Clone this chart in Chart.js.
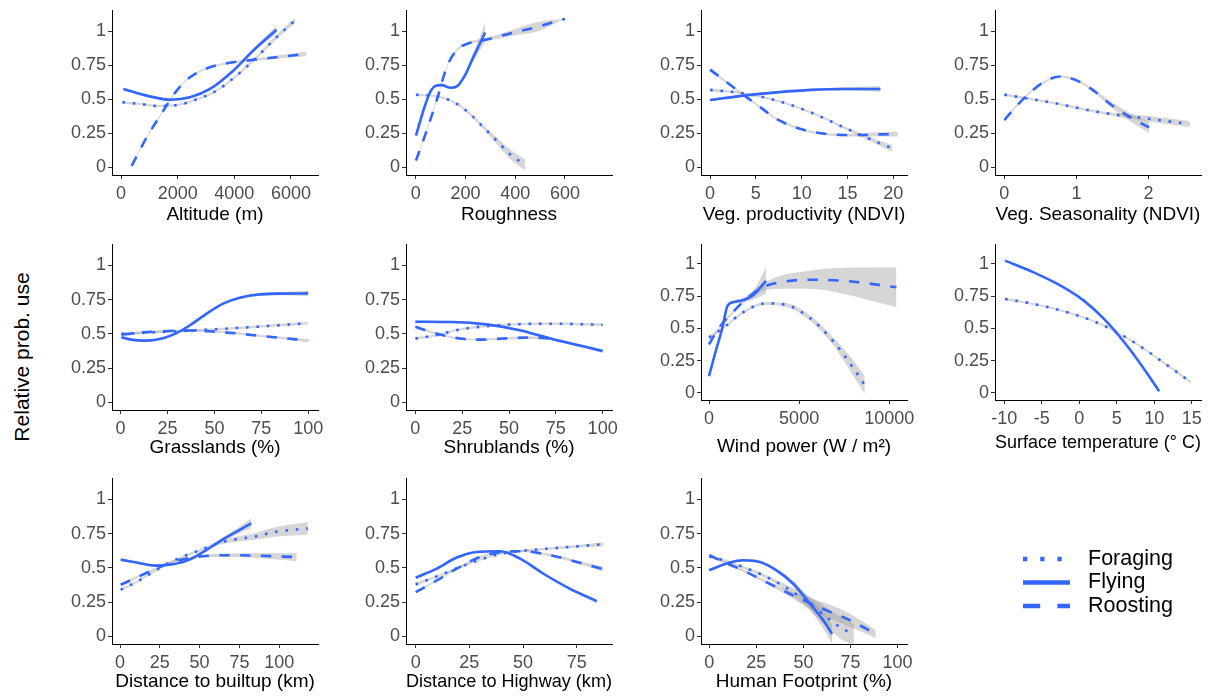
<!DOCTYPE html>
<html>
<head>
<meta charset="utf-8">
<script src="https://cdn.jsdelivr.net/npm/chart.js@4.4.1/dist/chart.umd.min.js"></script>
<style>
  html,body{margin:0;padding:0;background:#fff;}
  body{width:1217px;height:698px;position:relative;overflow:hidden;}
  canvas{position:absolute;}
  #ytitle{position:absolute;left:22px;top:357px;transform:translate(-50%,-50%) rotate(-90deg);white-space:nowrap;font:21px "Liberation Sans",Arial,sans-serif;color:#000;}
</style>
</head>
<body>
<div id="ytitle">Relative prob. use</div>
<script>
// ---------------- DATA ----------------
const seriesNames = ['Foraging', 'Flying', 'Roosting'];
const yTicks = [0, 0.25, 0.5, 0.75, 1];
const yTickLabels = ['0', '0.25', '0.5', '0.75', '1'];

// each point: [x, fitted relative probability, half-width of confidence band]
const altitudeTicks = [0, 2000, 4000, 6000];
const altitudeForaging = [[47,0.478,0.01],[670,0.466,0.008],[1260,0.451,0.008],[1960,0.458,0.008],[2670,0.50,0.008],[3375,0.564,0.008],[4080,0.674,0.01],[4790,0.809,0.012],[5490,0.956,0.015],[6140,1.078,0.02]];
const altitudeFlying = [[82,0.576,0.01],[905,0.527,0.008],[1730,0.497,0.008],[2435,0.515,0.008],[3140,0.576,0.008],[3960,0.71,0.01],[4670,0.858,0.015],[5490,1.01,0.03]];
const altitudeRoosting = [[376,0.012,0.01],[905,0.22,0.008],[1494,0.417,0.008],[1964,0.564,0.008],[2435,0.662,0.008],[3140,0.735,0.008],[3960,0.772,0.008],[4670,0.789,0.01],[5490,0.809,0.012],[6550,0.833,0.018]];

const roughnessTicks = [0, 200, 400, 600];
const roughnessForaging = [[1,0.533,0.008],[58,0.528,0.008],[111,0.511,0.008],[165,0.467,0.01],[218,0.393,0.012],[272,0.295,0.015],[325,0.197,0.025],[379,0.098,0.035],[439,0.02,0.04]];
const roughnessFlying = [[1,0.233,0.01],[31,0.418,0.01],[58,0.553,0.01],[84,0.602,0.01],[104,0.604,0.01],[138,0.585,0.01],[165,0.595,0.012],[198,0.676,0.015],[232,0.811,0.03],[258,0.909,0.05],[279,0.99,0.075]];
const roughnessRoosting = [[1,0.05,0.01],[44,0.27,0.01],[84,0.49,0.01],[125,0.737,0.01],[165,0.86,0.01],[218,0.914,0.01],[285,0.939,0.012],[379,0.983,0.02],[486,1.03,0.035],[600,1.09,0]];

const ndviTicks = [0, 5, 10, 15, 20];
const ndviForaging = [[0,0.569,0.01],[3.66,0.544,0.008],[7.3,0.49,0.008],[11,0.404,0.008],[14.6,0.294,0.01],[18.3,0.184,0.018],[19.9,0.14,0.025]];
const ndviFlying = [[0,0.495,0.01],[3.66,0.527,0.008],[7.3,0.551,0.008],[11,0.569,0.008],[14.6,0.576,0.012],[18.6,0.576,0.022]];
const ndviRoosting = [[0,0.718,0.012],[1.83,0.625,0.01],[3.66,0.532,0.008],[5.5,0.441,0.008],[7.3,0.355,0.008],[9.9,0.282,0.008],[12.8,0.245,0.008],[15.7,0.238,0.01],[18.3,0.243,0.015],[20.5,0.245,0.018]];

const seasonTicks = [0, 1, 2];
const seasonForaging = [[0,0.534,0.01],[0.637,0.478,0.008],[1.335,0.404,0.01],[2.03,0.355,0.02],[2.57,0.319,0.022]];
const seasonRoosting = [[0,0.348,0.012],[0.172,0.453,0.01],[0.358,0.551,0.008],[0.544,0.625,0.008],[0.777,0.667,0.008],[1.01,0.637,0.008],[1.24,0.564,0.012],[1.47,0.466,0.02],[1.75,0.368,0.03],[2.01,0.294,0.04]];

const percentTicks = [0, 25, 50, 75, 100];
const grassForaging = [[0.4,0.5,0.01],[36.8,0.524,0.008],[63.5,0.544,0.008],[100,0.578,0.01]];
const grassFlying = [[0.4,0.476,0.01],[6.6,0.456,0.008],[13.7,0.451,0.008],[22.6,0.468,0.008],[29.7,0.505,0.008],[36.8,0.561,0.008],[45.7,0.646,0.008],[54.6,0.72,0.008],[63.5,0.763,0.008],[72.4,0.785,0.01],[83,0.793,0.012],[100,0.795,0.02]];
const grassRoosting = [[0.4,0.495,0.01],[19,0.517,0.008],[36.8,0.524,0.008],[54.6,0.512,0.008],[72.4,0.488,0.008],[100,0.451,0.012]];

const shrubForaging = [[0,0.466,0.01],[11.2,0.49,0.008],[23.7,0.532,0.008],[37.9,0.556,0.008],[55.7,0.571,0.008],[73.5,0.574,0.008],[100,0.566,0.01]];
const shrubFlying = [[0,0.588,0.01],[20,0.586,0.008],[37.9,0.569,0.008],[55.7,0.527,0.008],[73.5,0.461,0.01],[91.3,0.404,0.012],[100,0.375,0.015]];
const shrubRoosting = [[0,0.551,0.01],[11.2,0.502,0.008],[23.7,0.466,0.008],[34.3,0.458,0.008],[46.8,0.466,0.008],[61,0.473,0.01],[73.5,0.466,0.012]];

const windTicks = [0, 5000, 10000];
const windForaging = [[0,0.429,0.015],[929,0.519,0.01],[1860,0.623,0.01],[3160,0.694,0.012],[4275,0.683,0.015],[5576,0.584,0.02],[6877,0.403,0.03],[7993,0.195,0.06],[8643,0.06,0.07]];
const windFlying = [[0,0.13,0.015],[372,0.325,0.012],[743,0.506,0.01],[1022,0.675,0.01],[1394,0.706,0.01],[1860,0.719,0.015],[2416,0.753,0.03],[3160,0.87,0.1]];
const windRoosting = [[0,0.377,0.015],[558,0.506,0.01],[1300,0.623,0.01],[2045,0.727,0.015],[2974,0.818,0.03],[3903,0.857,0.05],[5576,0.878,0.07],[7435,0.87,0.1],[10400,0.82,0.155]];

const tempTicks = [-10, -5, 0, 5, 10, 15];
const tempForaging = [[-9.9,0.729,0.01],[-6.1,0.69,0.008],[-1.6,0.625,0.008],[2.8,0.535,0.008],[7.3,0.393,0.008],[11.8,0.212,0.01],[14.9,0.083,0.012]];
const tempFlying = [[-9.9,1.026,0.008],[-6.1,0.935,0.006],[-2.5,0.832,0.006],[0.6,0.716,0.006],[3.3,0.574,0.006],[6,0.393,0.006],[8.65,0.186,0.008],[10.66,0.013,0.01]];

const builtupForaging = [[0.4,0.34,0.01],[12,0.408,0.008],[22.5,0.482,0.008],[35,0.56,0.008],[50,0.628,0.01],[64.6,0.689,0.015],[85.7,0.731,0.025],[98,0.763,0.035],[118,0.787,0.045]];
const builtupFlying = [[0.4,0.56,0.01],[12,0.535,0.008],[22.5,0.516,0.008],[33,0.526,0.008],[43.6,0.56,0.008],[54,0.628,0.01],[64.6,0.707,0.015],[73,0.763,0.02],[82.5,0.824,0.035]];
const builtupRoosting = [[0.4,0.377,0.01],[12,0.438,0.008],[22.5,0.494,0.008],[33,0.543,0.008],[43.6,0.572,0.008],[54,0.587,0.01],[68.8,0.592,0.012],[85.7,0.589,0.018],[102.5,0.582,0.025],[111,0.579,0.03]];

const highwayTicks = [0, 25, 50, 75];
const highwayForaging = [[0,0.379,0.01],[9.8,0.438,0.008],[20.7,0.506,0.008],[33,0.575,0.008],[44,0.616,0.008],[56.4,0.633,0.008],[71.9,0.653,0.01],[87.4,0.672,0.015]];
const highwayFlying = [[0,0.428,0.01],[9.8,0.494,0.008],[19.1,0.575,0.008],[28.4,0.616,0.008],[39.3,0.621,0.008],[48.6,0.567,0.008],[59.5,0.457,0.008],[71.9,0.347,0.01],[84.3,0.257,0.015]];
const highwayRoosting = [[0,0.323,0.01],[9.8,0.408,0.008],[19.1,0.494,0.008],[30,0.579,0.008],[40.8,0.616,0.008],[50.2,0.621,0.008],[62.6,0.592,0.01],[75,0.543,0.012],[87.4,0.489,0.018]];

const footprintForaging = [[0,0.584,0.01],[8.9,0.55,0.01],[17.9,0.506,0.01],[26.8,0.457,0.012],[35.7,0.396,0.015],[44.6,0.323,0.03],[53.6,0.237,0.05],[62.5,0.139,0.07],[69.6,0.066,0.08],[76.8,0.012,0.08]];
const footprintFlying = [[0,0.482,0.01],[8.9,0.53,0.01],[17.9,0.555,0.01],[26.8,0.543,0.01],[35.7,0.482,0.012],[44.6,0.384,0.02],[53.6,0.237,0.04],[60.7,0.115,0.06],[65.2,0.017,0.07]];
const footprintRoosting = [[0,0.592,0.012],[8.9,0.535,0.01],[17.9,0.482,0.01],[26.8,0.42,0.01],[35.7,0.359,0.015],[44.6,0.298,0.025],[53.6,0.242,0.04],[62.5,0.188,0.05],[71.4,0.139,0.05],[80.4,0.078,0.04],[88.4,0.017,0.03]];

// ---------------- LAYOUT / STYLE ----------------
const FONT = '"Liberation Sans", Arial, sans-serif';
const BLUE = '#3366FF';
const LW = 2.6;
const DASHES = { Foraging: [LW, 3 * LW], Flying: [], Roosting: [4 * LW, 4 * LW] };
const BAND = 'rgba(153,153,153,0.4)';
const YW = 60, PT = 16, PR = 30;
const Y_MIN = -0.055, Y_MAX = 1.155;

// box = [plotLeft, plotTop, plotRight, plotBottom]; gap = distance from x axis line to title centre
const panels = [
  { title: 'Altitude (m)', xMin: -318, xMax: 6953, ticks: altitudeTicks, s: [altitudeForaging, altitudeFlying, altitudeRoosting], box: [112, 10, 318, 175], gap: 40 },
  { title: 'Roughness', xMin: -39, xMax: 789, ticks: roughnessTicks, s: [roughnessForaging, roughnessFlying, roughnessRoosting], box: [406, 10, 612, 175], gap: 40 },
  { title: 'Veg. productivity (NDVI)', xMin: -0.99, xMax: 21.5, ticks: ndviTicks, s: [ndviForaging, ndviFlying, ndviRoosting], box: [701, 10, 907, 175], gap: 40 },
  { title: 'Veg. Seasonality (NDVI)', xMin: -0.13, xMax: 2.73, ticks: seasonTicks, s: [seasonForaging, null, seasonRoosting], box: [995, 10, 1201, 175], gap: 40 },
  { title: 'Grasslands (%)', xMin: -4.6, xMax: 105.2, ticks: percentTicks, s: [grassForaging, grassFlying, grassRoosting], box: [112, 244, 318, 410], gap: 38 },
  { title: 'Shrublands (%)', xMin: -5, xMax: 105, ticks: percentTicks, s: [shrubForaging, shrubFlying, shrubRoosting], box: [406, 244, 612, 410], gap: 38 },
  { title: 'Wind power (W / m\u00B2)', xMin: -446, xMax: 10987, ticks: windTicks, s: [windForaging, windFlying, windRoosting], box: [701, 244, 907, 400], gap: 47 },
  { title: 'Surface temperature (\u00B0 C)', xMin: -11.25, xMax: 16.25, ticks: tempTicks, s: [tempForaging, tempFlying, null], box: [995, 244, 1201, 400], gap: 43 },
  { title: 'Distance to builtup (km)', xMin: -5.05, xMax: 124.4, ticks: percentTicks, s: [builtupForaging, builtupFlying, builtupRoosting], box: [112, 478, 318, 644], gap: 38 },
  { title: 'Distance to Highway (km)', xMin: -4.5, xMax: 91.4, ticks: highwayTicks, s: [highwayForaging, highwayFlying, highwayRoosting], box: [406, 478, 612, 644], gap: 38 },
  { title: 'Human Footprint (%)', xMin: -4.4, xMax: 105, ticks: percentTicks, s: [footprintForaging, footprintFlying, footprintRoosting], box: [701, 478, 907, 644], gap: 38 }
];

function makeCanvas(left, top, w, h) {
  const c = document.createElement('canvas');
  c.width = w; c.height = h;
  c.style.left = left + 'px'; c.style.top = top + 'px';
  c.style.width = w + 'px'; c.style.height = h + 'px';
  document.body.appendChild(c);
  return c;
}

function lineDataset(name, pts) {
  return {
    label: name,
    data: pts.map(p => ({ x: p[0], y: p[1] })),
    borderColor: BLUE, borderWidth: LW, borderDash: DASHES[name], borderCapStyle: 'butt',
    pointRadius: 0, fill: false, cubicInterpolationMode: 'monotone'
  };
}
function bandDatasets(pts) {
  return [
    { label: 'lo', data: pts.map(p => ({ x: p[0], y: p[1] - p[2] })), borderColor: 'rgba(0,0,0,0)', borderWidth: 0, pointRadius: 0, fill: false, cubicInterpolationMode: 'monotone' },
    { label: 'hi', data: pts.map(p => ({ x: p[0], y: p[1] + p[2] })), borderColor: 'rgba(0,0,0,0)', borderWidth: 0, pointRadius: 0, fill: '-1', backgroundColor: BAND, cubicInterpolationMode: 'monotone' }
  ];
}

panels.forEach(p => {
  const [L, T, R, B] = p.box;
  const TITLE_SIZE = 19;
  const XH = Math.round(p.gap + TITLE_SIZE * 1.2 / 2);
  const W = (R - L) + YW + PR, H = (B - T) + PT + XH;
  const canvas = makeCanvas(L - YW, T - PT, W, H);
  const lines = [], bands = [];
  p.s.forEach((pts, i) => {
    if (!pts) return;
    lines.push(lineDataset(seriesNames[i], pts));
    bands.push(...bandDatasets(pts));
  });
  new Chart(canvas, {
    type: 'line',
    data: { datasets: lines.concat(bands) },
    options: {
      responsive: false, animation: false, devicePixelRatio: 1,
      layout: { padding: { top: PT, right: PR, left: 0, bottom: 0 } },
      plugins: { legend: { display: false }, tooltip: { enabled: false } },
      scales: {
        x: {
          type: 'linear', min: p.xMin, max: p.xMax,
          afterBuildTicks: s => { s.ticks = p.ticks.map(v => ({ value: v })); },
          afterFit: s => { s.height = XH; },
          border: { display: true, color: '#000', width: 1 },
          grid: { drawOnChartArea: false, drawTicks: true, tickLength: 4, color: '#333' },
          ticks: { color: '#4D4D4D', font: { size: 18, family: FONT }, padding: 4, maxRotation: 0, minRotation: 0, autoSkip: false, callback: v => String(v) },
          title: { display: true, text: p.title, color: '#000', font: { size: TITLE_SIZE, family: FONT }, padding: 0 }
        },
        y: {
          type: 'linear', min: Y_MIN, max: Y_MAX,
          afterBuildTicks: s => { s.ticks = yTicks.map(v => ({ value: v })); },
          afterFit: s => { s.width = YW; },
          border: { display: true, color: '#000', width: 1 },
          grid: { drawOnChartArea: false, drawTicks: true, tickLength: 4, color: '#333' },
          ticks: { color: '#4D4D4D', font: { size: 18, family: FONT }, padding: 2, autoSkip: false, callback: (v, i) => yTickLabels[i] }
        }
      }
    }
  });
});

// ---------------- LEGEND ----------------
const legendCanvas = makeCanvas(1000, 530, 200, 100);
const LEG_LW = 4.3;
const legendDash = { Foraging: [LEG_LW, 3 * LEG_LW], Flying: [], Roosting: [4 * LEG_LW, 4 * LEG_LW] };
const legendPlugin = {
  id: 'lineKeyLegend',
  afterDraw(chart) {
    const ctx = chart.ctx;
    const rows = [29, 52.5, 76];
    chart.data.datasets.forEach((ds, i) => {
      const y = rows[i];
      ctx.save();
      ctx.strokeStyle = ds.borderColor;
      ctx.lineWidth = LEG_LW;
      ctx.lineCap = 'butt';
      ctx.setLineDash(legendDash[ds.label]);
      ctx.beginPath(); ctx.moveTo(23, y); ctx.lineTo(70, y); ctx.stroke();
      ctx.setLineDash([]);
      ctx.fillStyle = '#000';
      ctx.font = '21.5px ' + FONT;
      ctx.textBaseline = 'middle';
      ctx.textAlign = 'left';
      ctx.fillText(ds.label, 88, y);
      ctx.restore();
    });
  }
};
new Chart(legendCanvas, {
  type: 'line',
  data: { datasets: seriesNames.map(n => ({ label: n, data: [], borderColor: BLUE, borderWidth: LW, borderDash: DASHES[n] })) },
  options: {
    responsive: false, animation: false, devicePixelRatio: 1,
    plugins: { legend: { display: false }, tooltip: { enabled: false } },
    scales: { x: { display: false }, y: { display: false } }
  },
  plugins: [legendPlugin]
});
</script>
</body>
</html>
